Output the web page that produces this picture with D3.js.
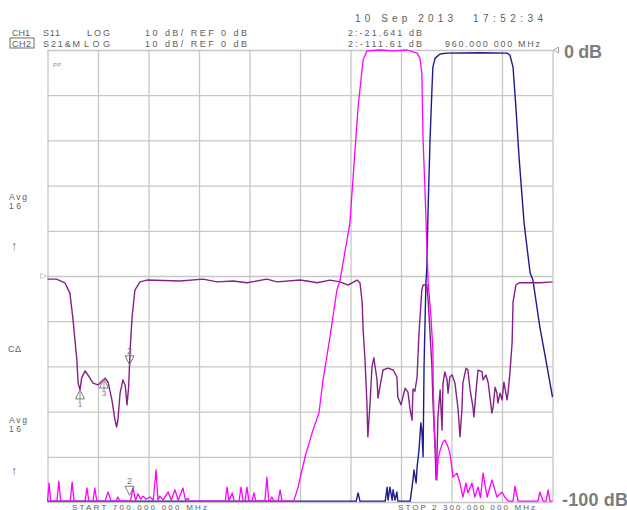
<!DOCTYPE html>
<html>
<head>
<meta charset="utf-8">
<script src="https://cdn.jsdelivr.net/npm/d3@7"></script>
<style>
  html,body{margin:0;padding:0;background:#fff;}
  svg{display:block;}
  text{font-family:"Liberation Sans","DejaVu Sans",Arial,sans-serif;}
</style>
</head>
<body>
<svg id="chart" width="627" height="510"></svg>
<script>
// ---------- data ----------
const startMHz = 700;
const stopMHz = 2300;
const refDb = 0;
const dbPerDiv = 10;
const gridFreqs = [700, 860, 1020, 1180, 1340, 1500, 1660, 1820, 1980, 2140, 2300];
const gridDbs = [0, -10, -20, -30, -40, -50, -60, -70, -80, -90, -100];

// CH1 S11 (purple)
const s11Trace = [
[700,-50.7],[729,-50.7],[755,-51.5],[771,-53.8],[781,-59.7],[793,-68.6],[797,-73.7],[803,-75.2],[808,-72.6],[819,-71.0],[828,-71.9],[844,-73.7],[860,-74.1],[882,-72.6],[892,-73.5],[904,-77.4],[914,-81.9],[919,-83.4],[923,-81.9],[930,-75.9],[939,-73.0],[946,-74.1],[952,-78.5],[957,-74.5],[963,-64.8],[968,-59.1],[977,-53.1],[993,-51.3],[1015,-50.9],[1120,-51.1],[1193,-50.7],[1237,-51.3],[1288,-51.1],[1332,-51.5],[1395,-50.7],[1427,-51.3],[1500,-50.9],[1522,-51.1],[1554,-51.5],[1595,-50.9],[1627,-51.3],[1652,-52.0],[1681,-50.9],[1690,-51.5],[1697,-55.8],[1700,-61.9],[1706,-68.6],[1712,-78.1],[1715,-85.6],[1722,-78.1],[1728,-70.1],[1734,-68.1],[1744,-73.0],[1747,-77.0],[1753,-74.6],[1763,-70.8],[1779,-70.4],[1795,-70.8],[1807,-72.3],[1810,-76.8],[1820,-78.5],[1833,-74.8],[1842,-75.7],[1849,-79.6],[1855,-81.9],[1858,-75.0],[1864,-75.5],[1871,-72.3],[1877,-62.6],[1886,-53.1],[1890,-52.0],[1902,-52.0],[1906,-55.3],[1912,-62.6],[1918,-70.1],[1921,-77.4],[1928,-88.5],[1931,-95.1],[1934,-90.0],[1937,-81.2],[1944,-75.2],[1950,-84.1],[1953,-73.7],[1959,-71.2],[1966,-73.0],[1969,-75.9],[1975,-72.3],[1982,-71.9],[1991,-73.7],[2001,-79.6],[2007,-85.6],[2013,-79.6],[2016,-73.7],[2026,-70.4],[2032,-70.8],[2039,-75.2],[2048,-79.0],[2051,-81.2],[2058,-75.2],[2064,-70.8],[2077,-71.2],[2080,-73.0],[2089,-71.9],[2096,-73.5],[2108,-80.3],[2112,-79.0],[2118,-74.6],[2124,-75.9],[2127,-78.1],[2134,-75.9],[2140,-77.4],[2146,-73.5],[2156,-77.4],[2159,-75.9],[2165,-71.5],[2172,-64.8],[2175,-55.8],[2184,-52.0],[2194,-51.5],[2219,-51.5],[2260,-51.5],[2300,-51.3]
];

// CH2 S21 path A (magenta)
const s21PathA = [
[700,-99.8],[705,-95.8],[710,-99.8],[730,-99.8],[736,-95.4],[742,-99.8],[772,-99.8],[778,-95.6],[784,-99.8],[819,-99.8],[825,-96.9],[831,-99.8],[844,-99.8],[850,-96.9],[856,-99.8],[882,-99.8],[892,-97.8],[902,-99.8],[917,-99.8],[923,-98.9],[929,-99.8],[963,-99.8],[971,-96.9],[979,-99.6],[987,-98.2],[995,-99.4],[1003,-98.7],[1012,-99.4],[1025,-98.9],[1035,-99.6],[1044,-92.9],[1050,-99.6],[1056,-98.7],[1066,-99.6],[1082,-97.8],[1092,-99.6],[1104,-97.3],[1114,-99.6],[1129,-96.9],[1137,-99.6],[1145,-99.2],[1150,-99.8],[1263,-99.8],[1269,-96.7],[1275,-99.8],[1285,-98.0],[1292,-99.8],[1307,-99.8],[1313,-96.7],[1320,-99.8],[1326,-99.8],[1332,-96.7],[1338,-99.8],[1348,-99.8],[1354,-98.0],[1360,-99.8],[1389,-99.8],[1395,-94.5],[1401,-99.8],[1405,-99.8],[1411,-98.9],[1417,-99.8],[1431,-99.8],[1437,-97.3],[1443,-99.8],[1480,-99.8],[1494,-96.7],[1516,-90.0],[1541,-84.1],[1560,-80.3],[1573,-73.0],[1595,-63.5],[1617,-53.1],[1627,-50.9],[1658,-38.3],[1684,-12.6],[1700,-2.2],[1712,-0.2],[1753,0],[1795,-0.2],[1839,0],[1871,-0.7],[1880,-1.8],[1886,-5.1],[1890,-19.9],[1896,-31.0],[1900,-39.2],[1906,-51.5],[1915,-59.1],[1921,-66.4],[1922,-73.7],[1925,-82.5],[1931,-90.0],[1934,-95.1],[1937,-90.7],[1944,-88.5],[1953,-86.7],[1959,-86.3],[1969,-87.8],[1975,-89.2],[1982,-92.9],[1985,-94.5],[1997,-93.6],[2007,-95.8],[2016,-98.9],[2026,-95.8],[2032,-98.0],[2045,-95.8],[2054,-98.9],[2064,-96.7],[2072,-99.0],[2080,-93.6],[2093,-98.9],[2108,-95.1],[2124,-98.9],[2140,-97.8],[2149,-98.9],[2160,-99.8],[2175,-99.8],[2181,-96.5],[2191,-99.8],[2254,-99.8],[2260,-97.8],[2270,-99.8],[2280,-99.8],[2286,-97.3],[2292,-99.8],[2300,-99.8]
];

// CH2 S21 path B (navy)
const s21PathB = [
[700,-99.8],[1678,-99.8],[1684,-98.0],[1690,-99.8],[1770,-99.8],[1776,-96.7],[1779,-99.6],[1785,-96.7],[1792,-99.6],[1795,-97.3],[1801,-99.6],[1807,-97.8],[1810,-99.8],[1849,-99.8],[1858,-95.1],[1861,-92.9],[1868,-95.8],[1871,-92.3],[1877,-88.5],[1883,-82.5],[1886,-84.1],[1890,-90.0],[1893,-70.1],[1899,-51.5],[1902,-48.0],[1906,-34.7],[1912,-19.9],[1918,-8.8],[1921,-3.8],[1928,-1.8],[1944,-0.9],[1966,-0.7],[2070,-0.6],[2156,-0.7],[2165,-1.1],[2175,-3.8],[2184,-12.6],[2194,-23.7],[2210,-38.3],[2229,-49.3],[2238,-50.9],[2260,-61.3],[2283,-70.1],[2300,-76.8]
];

const ch1MarkerLabels = ["1", "3", "2"];
const ch1MarkerFreqs = [803, 879, 960];
const ch2MarkerLabels = ["2"];
const ch2MarkerFreqs = [960];
const activeMarker = "2";

const headerCh1 = ["CH1", "S11", "LOG", "10 dB/ REF 0 dB"];
const headerCh2 = ["CH2", "S21&M", "LOG", "10 dB/ REF 0 dB"];
const dateText = "10 Sep 2013";
const timeText = "17:52:34";
const markerReadout1 = "2:-21.641 dB";
const markerReadout2 = "2:-111.61 dB";
const markerStim = "960.000 000 MHz";
const startText = "START 700.000 000 MHz";
const stopText = "STOP 2 300.000 000 MHz";
const topRefText = "0 dB";
const bottomRefText = "-100 dB";

// ---------- drawing ----------
const svg = d3.select("#chart");
const plotLeft = 47.5, plotRight = 552.5, plotTop = 50, plotBottom = 502;
const x = d3.scaleLinear().domain([startMHz, stopMHz]).range([plotLeft, plotRight]);
const y = d3.scaleLinear().domain([refDb - 10 * dbPerDiv, refDb]).range([plotBottom, plotTop]);

const gridColor = "#c6c6c6";
const gx = svg.append("g").attr("transform", `translate(0,${y(-100)})`)
  .call(d3.axisBottom(x).tickValues(gridFreqs).tickSize(-(y(-100) - y(0))).tickFormat(""));
const gy = svg.append("g").attr("transform", `translate(${x(startMHz)},0)`)
  .call(d3.axisLeft(y).tickValues(gridDbs).tickSize(-(x(stopMHz) - x(startMHz))).tickFormat(""));
[gx, gy].forEach(g => {
  g.select(".domain").remove();
  g.selectAll("line").attr("stroke", gridColor).attr("stroke-width", 1.3);
});

const line = d3.line().x(d => x(d[0])).y(d => y(d[1]));
svg.append("path").datum(s21PathB).attr("d", line)
  .attr("fill", "none").attr("stroke", "#1c1c8e").attr("stroke-width", 1.4).attr("stroke-linejoin", "round");
svg.append("path").datum(s11Trace).attr("d", line)
  .attr("fill", "none").attr("stroke", "#852088").attr("stroke-width", 1.4).attr("stroke-linejoin", "round");
svg.append("path").datum(s21PathA).attr("d", line)
  .attr("fill", "none").attr("stroke", "#ff00ff").attr("stroke-width", 1.3).attr("stroke-linejoin", "round");

// markers
function interp(trace, f) {
  for (let i = 1; i < trace.length; i++) {
    if (trace[i][0] >= f) {
      const a = trace[i - 1], b = trace[i];
      return a[1] + (b[1] - a[1]) * (f - a[0]) / (b[0] - a[0]);
    }
  }
  return trace[trace.length - 1][1];
}
const markColor = "#7a7a7a";
function drawMarkers(trace, labels, freqs, minDb) {
  labels.forEach((lab, i) => {
    const mx = x(freqs[i]);
    const my = y(Math.max(interp(trace, freqs[i]), minDb));
    const g = svg.append("g");
    if (lab === activeMarker) {
      g.append("path").attr("d", `M${mx},${my} L${mx - 4.5},${my - 9} L${mx + 4.5},${my - 9} Z`)
        .attr("fill", "none").attr("stroke", markColor).attr("stroke-width", 1);
      g.append("text").attr("x", mx).attr("y", my - 11).attr("text-anchor", "middle")
        .attr("font-size", 9).attr("fill", markColor).text(lab);
    } else {
      g.append("path").attr("d", `M${mx},${my} L${mx - 4.5},${my + 9} L${mx + 4.5},${my + 9} Z`)
        .attr("fill", "none").attr("stroke", markColor).attr("stroke-width", 1);
      g.append("line").attr("x1", mx).attr("x2", mx).attr("y1", my + 2).attr("y2", my + 12)
        .attr("stroke", markColor).attr("stroke-width", 0.8);
      g.append("text").attr("x", mx).attr("y", my + 17).attr("text-anchor", "middle")
        .attr("font-size", 8).attr("fill", markColor).text(lab);
    }
  });
}
drawMarkers(s11Trace, ch1MarkerLabels, ch1MarkerFreqs, -100);
drawMarkers(s21PathA, ch2MarkerLabels, ch2MarkerFreqs, -98.5);

// text annotations
const txt = "#5e5e5e";
function t(str, px, py, size, width, opts = {}) {
  const e = svg.append("text").attr("x", px).attr("y", py).attr("font-size", size)
    .attr("fill", opts.fill || txt).text(str);
  if (width) e.attr("textLength", width).attr("lengthAdjust", "spacing");
  if (opts.weight) e.attr("font-weight", opts.weight);
  if (opts.anchor) e.attr("text-anchor", opts.anchor);
  if (opts.style) e.attr("font-style", opts.style);
  return e;
}
t(dateText, 355, 22, 10, 98);
t(timeText, 473, 22, 10, 70);
t(headerCh1[0], 12, 35.5, 9, 18);
t(headerCh1[1], 43, 35.5, 9, 17);
t(headerCh1[2], 87, 35.5, 9, 23);
t(headerCh1[3], 145, 35.5, 9, 102);
svg.append("rect").attr("x", 10).attr("y", 38).attr("width", 24).attr("height", 10)
  .attr("fill", "none").attr("stroke", txt).attr("stroke-width", 0.9);
t(headerCh2[0], 12, 46.5, 9, 19);
t(headerCh2[1], 43, 46.5, 9, 37);
t(headerCh2[2], 84, 46.5, 9, 26);
t(headerCh2[3], 145, 46.5, 9, 102);
t(markerReadout1, 348, 36, 9, 74);
t(markerReadout2, 348, 46.5, 9, 74);
t(markerStim, 445, 46.5, 9, 95);
t(startText, 72, 509.5, 8, 135);
t(stopText, 398, 509.5, 8, 137);

t("Avg", 9, 200, 8.5, 18);
t("1 6", 9, 209, 8.5, 12);
t("\u2191", 11, 250, 12);
t("C\u0394", 8, 352, 9, 13);
t("Avg", 9, 423, 8.5, 18);
t("1 6", 9, 432, 8.5, 12);
t("\u2191", 11, 475, 12);
t("PP", 53, 67, 5.5, 8, {fill: "#8a8a8a", style: "italic"});

// reference markers
const rx = x(stopMHz), ry = y(refDb);
svg.append("path").attr("d", `M${rx + 1},${ry} L${rx + 6},${ry - 3} L${rx + 6},${ry + 3} Z`)
  .attr("fill", "none").attr("stroke", "#9a9a9a").attr("stroke-width", 0.9);
const lx = x(startMHz), ly = y(-50);
svg.append("path").attr("d", `M${lx - 1},${ly} L${lx - 7},${ly - 2.5} L${lx - 7},${ly + 2.5} Z`)
  .attr("fill", "none").attr("stroke", "#c8c8c8").attr("stroke-width", 0.9);

t(topRefText, 564, 58, 18, 38, {fill: "#7d7d7d", weight: "bold"});
t(bottomRefText, 562, 506, 18, 66, {fill: "#7d7d7d", weight: "bold"});
</script>
</body>
</html>
